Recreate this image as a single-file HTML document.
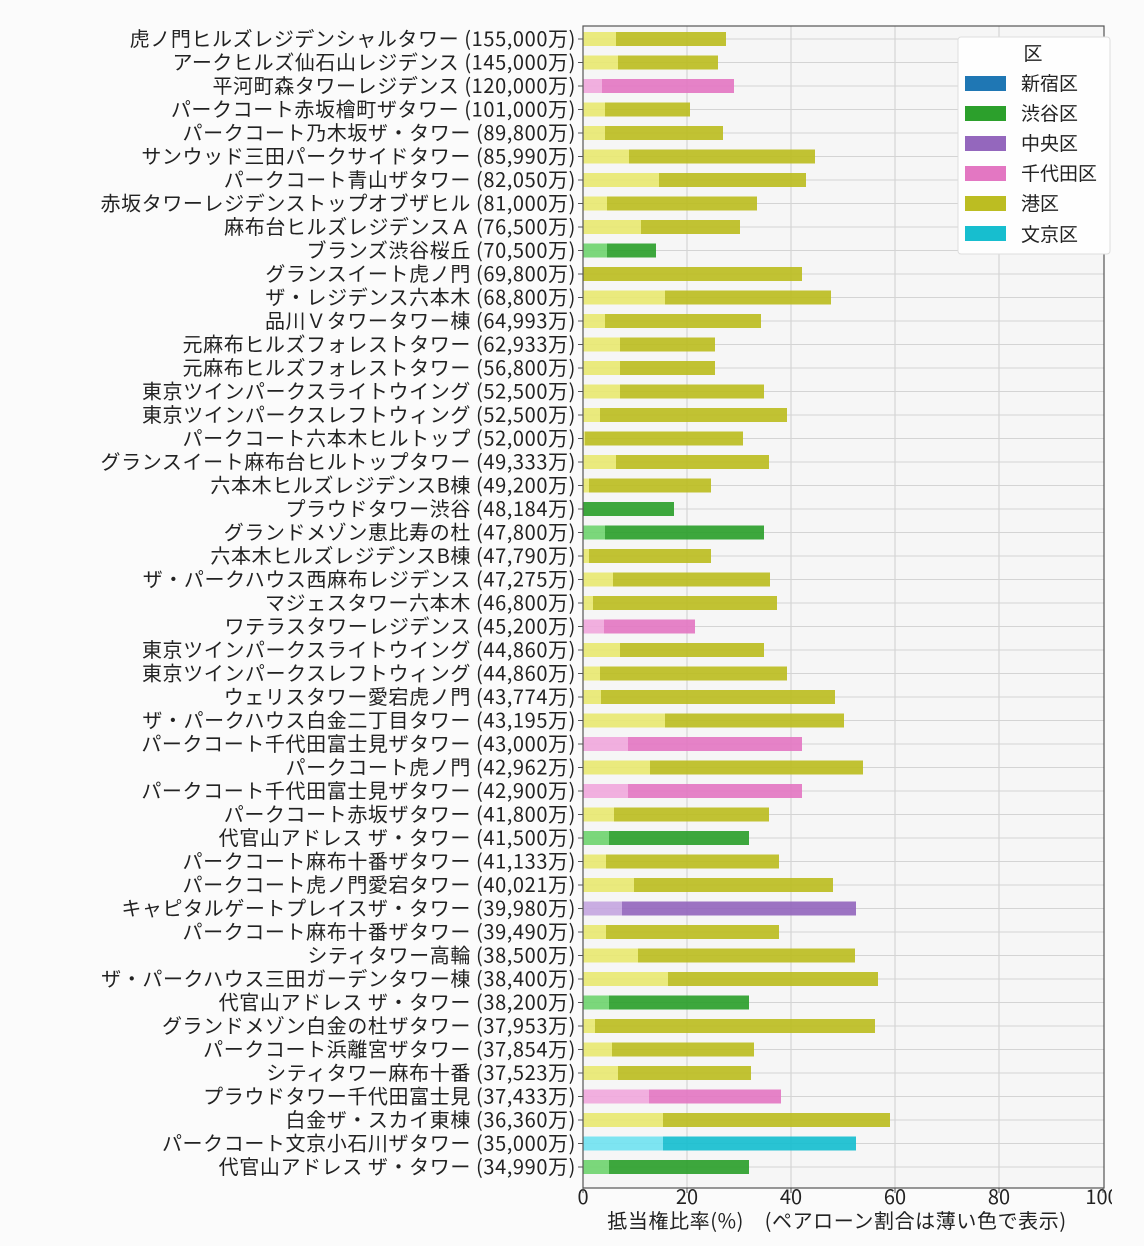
<!DOCTYPE html>
<html><head><meta charset="utf-8"><style>
html,body{margin:0;padding:0;background:#fafafa;}
svg{display:block;}
text{font-family:"Noto Sans CJK JP","Liberation Sans",sans-serif;fill:#222;}
.lb{font-size:20px;letter-spacing:0.6px;}
</style></head><body>
<svg width="1144" height="1246" viewBox="0 0 1144 1246" xmlns="http://www.w3.org/2000/svg">
<rect x="0" y="0" width="1144" height="1246" fill="#fbfbfb"/>
<rect x="583" y="26" width="521" height="1162" fill="#f6f6f6"/>
<g stroke="#cfcfcf" stroke-width="1">
<line x1="687" y1="26" x2="687" y2="1188"/><line x1="791" y1="26" x2="791" y2="1188"/>
<line x1="895" y1="26" x2="895" y2="1188"/><line x1="999" y1="26" x2="999" y2="1188"/>
</g>
<g id="rows"></g>
<rect x="583" y="26" width="521" height="1162" fill="none" stroke="#555" stroke-width="1.2"/>
<g font-size="20" text-anchor="middle">
<text x="583" y="1204">0</text><text x="687" y="1204">20</text><text x="791" y="1204">40</text><text x="895" y="1204">60</text><text x="999" y="1204">80</text><text x="1102" y="1204">100</text>
</g>
<g stroke="#555"><line x1="583" y1="1188" x2="583" y2="1193"/><line x1="687" y1="1188" x2="687" y2="1193"/><line x1="791" y1="1188" x2="791" y2="1193"/><line x1="895" y1="1188" x2="895" y2="1193"/><line x1="999" y1="1188" x2="999" y2="1193"/><line x1="1103" y1="1188" x2="1103" y2="1193"/></g>
<text x="837" y="1228" class="lb" text-anchor="middle">抵当権比率(%)　(ペアローン割合は薄い色で表示)</text>
<rect x="1112" y="1185" width="32" height="28" fill="#fbfbfb"/>
<rect x="958" y="37" width="152" height="217" rx="3" fill="#fefefe" stroke="#ddd"/>
<text x="1033" y="60" font-size="19" text-anchor="middle">区</text>
<g font-size="19">
<rect x="965" y="76" width="41" height="15" fill="#1f77b4"/><text x="1021" y="90">新宿区</text>
<rect x="965" y="106" width="41" height="15" fill="#2ca02c"/><text x="1021" y="120">渋谷区</text>
<rect x="965" y="136" width="41" height="15" fill="#9467bd"/><text x="1021" y="150">中央区</text>
<rect x="965" y="166" width="41" height="15" fill="#e377c2"/><text x="1021" y="180">千代田区</text>
<rect x="965" y="196" width="41" height="15" fill="#bcbd22"/><text x="1021" y="210">港区</text>
<rect x="965" y="226" width="41" height="15" fill="#17becf"/><text x="1021" y="241">文京区</text>
</g>
</svg>
<script>
var C={m:["#bcbd22","#e8e872"],c:["#e377c2","#f0a8dc"],s:["#2ca02c","#70d470"],p:["#9467bd","#c4a6e0"],b:["#17becf","#72e2f0"]};
var R=[
["虎ノ門ヒルズレジデンシャルタワー (155,000万)",616,726,"m"],
["アークヒルズ仙石山レジデンス (145,000万)",618,718,"m"],
["平河町森タワーレジデンス (120,000万)",602,734,"c"],
["パークコート赤坂檜町ザタワー (101,000万)",605,690,"m"],
["パークコート乃木坂ザ・タワー (89,800万)",605,723,"m"],
["サンウッド三田パークサイドタワー (85,990万)",629,815,"m"],
["パークコート青山ザタワー (82,050万)",659,806,"m"],
["赤坂タワーレジデンストップオブザヒル (81,000万)",607,757,"m"],
["麻布台ヒルズレジデンスＡ (76,500万)",641,740,"m"],
["ブランズ渋谷桜丘 (70,500万)",607,656,"s"],
["グランスイート虎ノ門 (69,800万)",583,802,"m"],
["ザ・レジデンス六本木 (68,800万)",665,831,"m"],
["品川Ｖタワータワー棟 (64,993万)",605,761,"m"],
["元麻布ヒルズフォレストタワー (62,933万)",620,715,"m"],
["元麻布ヒルズフォレストタワー (56,800万)",620,715,"m"],
["東京ツインパークスライトウイング (52,500万)",620,764,"m"],
["東京ツインパークスレフトウィング (52,500万)",600,787,"m"],
["パークコート六本木ヒルトップ (52,000万)",585,743,"m"],
["グランスイート麻布台ヒルトップタワー (49,333万)",616,769,"m"],
["六本木ヒルズレジデンスB棟 (49,200万)",589,711,"m"],
["プラウドタワー渋谷 (48,184万)",583,674,"s"],
["グランドメゾン恵比寿の杜 (47,800万)",605,764,"s"],
["六本木ヒルズレジデンスB棟 (47,790万)",589,711,"m"],
["ザ・パークハウス西麻布レジデンス (47,275万)",613,770,"m"],
["マジェスタワー六本木 (46,800万)",593,777,"m"],
["ワテラスタワーレジデンス (45,200万)",604,695,"c"],
["東京ツインパークスライトウイング (44,860万)",620,764,"m"],
["東京ツインパークスレフトウィング (44,860万)",600,787,"m"],
["ウェリスタワー愛宕虎ノ門 (43,774万)",601,835,"m"],
["ザ・パークハウス白金二丁目タワー (43,195万)",665,844,"m"],
["パークコート千代田富士見ザタワー (43,000万)",628,802,"c"],
["パークコート虎ノ門 (42,962万)",650,863,"m"],
["パークコート千代田富士見ザタワー (42,900万)",628,802,"c"],
["パークコート赤坂ザタワー (41,800万)",614,769,"m"],
["代官山アドレス ザ・タワー (41,500万)",609,749,"s"],
["パークコート麻布十番ザタワー (41,133万)",606,779,"m"],
["パークコート虎ノ門愛宕タワー (40,021万)",634,833,"m"],
["キャピタルゲートプレイスザ・タワー (39,980万)",622,856,"p"],
["パークコート麻布十番ザタワー (39,490万)",606,779,"m"],
["シティタワー高輪 (38,500万)",638,855,"m"],
["ザ・パークハウス三田ガーデンタワー棟 (38,400万)",668,878,"m"],
["代官山アドレス ザ・タワー (38,200万)",609,749,"s"],
["グランドメゾン白金の杜ザタワー (37,953万)",595,875,"m"],
["パークコート浜離宮ザタワー (37,854万)",612,754,"m"],
["シティタワー麻布十番 (37,523万)",618,751,"m"],
["プラウドタワー千代田富士見 (37,433万)",649,781,"c"],
["白金ザ・スカイ東棟 (36,360万)",663,890,"m"],
["パークコート文京小石川ザタワー (35,000万)",663,856,"b"],
["代官山アドレス ザ・タワー (34,990万)",609,749,"s"]];
var s="";
R.forEach(function(r,i){var y=39+i*23.5,c=C[r[3]];
s+='<line x1="583" x2="1104" y1="'+y+'" y2="'+y+'" stroke="#d4d4d4"/>';
s+='<line x1="578" x2="583" y1="'+y+'" y2="'+y+'" stroke="#555"/>';
s+='<rect x="583" y="'+(y-7)+'" width="'+(r[1]-583)+'" height="14" fill="'+c[1]+'" opacity="0.92"/>';
s+='<rect x="'+r[1]+'" y="'+(y-7)+'" width="'+(r[2]-r[1])+'" height="14" fill="'+c[0]+'" opacity="0.92"/>';
s+='<text x="576" y="'+(y+7)+'" class="lb" text-anchor="end">'+r[0]+'</text>';});
document.getElementById("rows").innerHTML=s;
</script>
</body></html>
